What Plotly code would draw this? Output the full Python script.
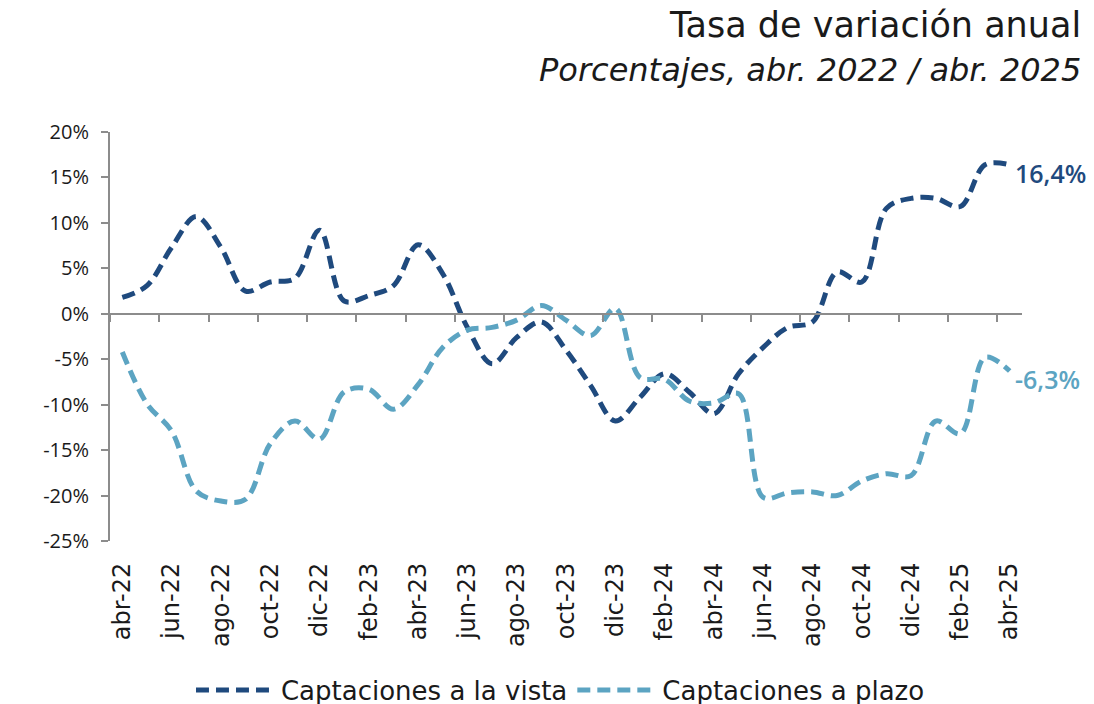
import plotly.graph_objects as go

months = ["abr-22", "may-22", "jun-22", "jul-22", "ago-22", "sep-22", "oct-22", "nov-22", "dic-22",
          "ene-23", "feb-23", "mar-23", "abr-23", "may-23", "jun-23", "jul-23", "ago-23", "sep-23",
          "oct-23", "nov-23", "dic-23", "ene-24", "feb-24", "mar-24", "abr-24", "may-24", "jun-24",
          "jul-24", "ago-24", "sep-24", "oct-24", "nov-24", "dic-24", "ene-25", "feb-25", "mar-25",
          "abr-25"]

vista = [1.8, 3.1, 7.3, 10.7, 7.3, 2.5, 3.5, 3.9, 9.2, 1.4, 2.0, 3.1, 7.6,
         4.4, -1.5, -5.5, -2.6, -0.9, -4.0, -7.9, -11.8, -9.2, -6.6, -8.6, -11.0,
         -6.6, -3.7, -1.5, -0.9, 4.6, 3.5, 11.6, 12.7, 12.7, 11.8, 16.4, 16.4]

plazo = [-4.2, -9.9, -12.9, -19.5, -20.6, -20.4, -14.3, -11.8, -13.8, -8.6, -8.3, -10.5, -7.8,
         -3.7, -1.8, -1.5, -0.7, 0.9, -0.7, -2.4, 0.6, -7.0, -7.2, -9.6, -9.8,
         -8.8, -20.2, -19.7, -19.6, -20.0, -18.4, -17.6, -17.8, -11.8, -13.2, -4.8, -6.3]

series_names = ["Captaciones a la vista", "Captaciones a plazo"]
end_labels = ["16,4%", "-6,3%"]
colors = ["#1F4A7E", "#5CA4C2"]

y_ticks = [20, 15, 10, 5, 0, -5, -10, -15, -20, -25]
y_ticktext = ["20%", "15%", "10%", "5%", "0%", "-5%", "-10%", "-15%", "-20%", "-25%"]

WIDE = "DejaVu Sans"
FONT = "Open Sans"
TXT = "#1a1a1a"
AXC = "#8C8C8C"
x_idx = list(range(len(months)))

fig = go.Figure()
for name, vals, col in zip(series_names, [vista, plazo], colors):
    fig.add_trace(go.Scatter(
        x=x_idx, y=vals, name=name, mode="lines",
        line=dict(color=col, width=5, dash="13px,7px", shape="spline", smoothing=1.0),
        hoverinfo="skip",
    ))

# invisible trace so the zero-line axis (xaxis2) is rendered
fig.add_trace(go.Scatter(x=[x_idx[0]], y=[0], xaxis="x2", mode="markers",
                         marker=dict(opacity=0), showlegend=False, hoverinfo="skip"))

for vals, lab, col in zip([vista, plazo], end_labels, colors):
    fig.add_annotation(x=x_idx[-1], y=vals[-1], text=lab, showarrow=False,
                       xanchor="left", yanchor="middle", xshift=3, yshift=-8,
                       font=dict(family=FONT, size=25, color=col, weight=600))

n = len(months)
boundaries = [i - 0.5 for i in range(0, n, 2)]

fig.update_layout(
    width=1094, height=704,
    margin=dict(l=102, r=80, t=124, b=171, autoexpand=False),
    paper_bgcolor="white", plot_bgcolor="white",
    font=dict(family=FONT, size=20, color=TXT),
    showlegend=True,
    legend=dict(orientation="h", x=0.505, xref="container", xanchor="center",
                y=0.031, yref="container", yanchor="middle",
                font=dict(family=WIDE, size=26, color=TXT),
                itemwidth=80, tracegroupgap=0, bgcolor="rgba(0,0,0,0)"),
    xaxis=dict(range=[-0.5, n - 0.5], tickmode="array", tickvals=x_idx[::2],
               ticktext=months[::2], tickangle=-90, showline=False, showgrid=False,
               zeroline=False, ticks="", ticklabelstandoff=16, automargin=False,
               tickfont=dict(family=WIDE, size=24, color=TXT)),
    xaxis2=dict(range=[-0.5, n - 0.5], overlaying="x", anchor="free", position=25 / 45,
                tickmode="array", tickvals=boundaries, showticklabels=False,
                showline=True, linecolor=AXC, linewidth=2, ticks="outside",
                ticklen=7, tickwidth=2, tickcolor=AXC, showgrid=False, zeroline=False),
    yaxis=dict(range=[-25, 20], tickmode="array", tickvals=y_ticks, ticktext=y_ticktext,
               showline=True, linecolor=AXC, linewidth=2, ticks="outside",
               ticklen=7, tickwidth=2, tickcolor=AXC, showgrid=False, zeroline=False,
               ticklabelstandoff=8, automargin=False,
               tickfont=dict(family=FONT, size=20, color=TXT)),
)

fig.add_annotation(xref="paper", yref="paper", x=1.067, y=1.2616, xanchor="right", yanchor="middle",
                   text="Tasa de variación anual", showarrow=False,
                   font=dict(family=WIDE, size=35, color=TXT))
fig.add_annotation(xref="paper", yref="paper", x=1.067, y=1.1516, xanchor="right", yanchor="middle",
                   text="<i>Porcentajes, abr. 2022 / abr. 2025</i>", showarrow=False,
                   font=dict(family=WIDE, size=32, color=TXT))

fig.write_html("out.html")
